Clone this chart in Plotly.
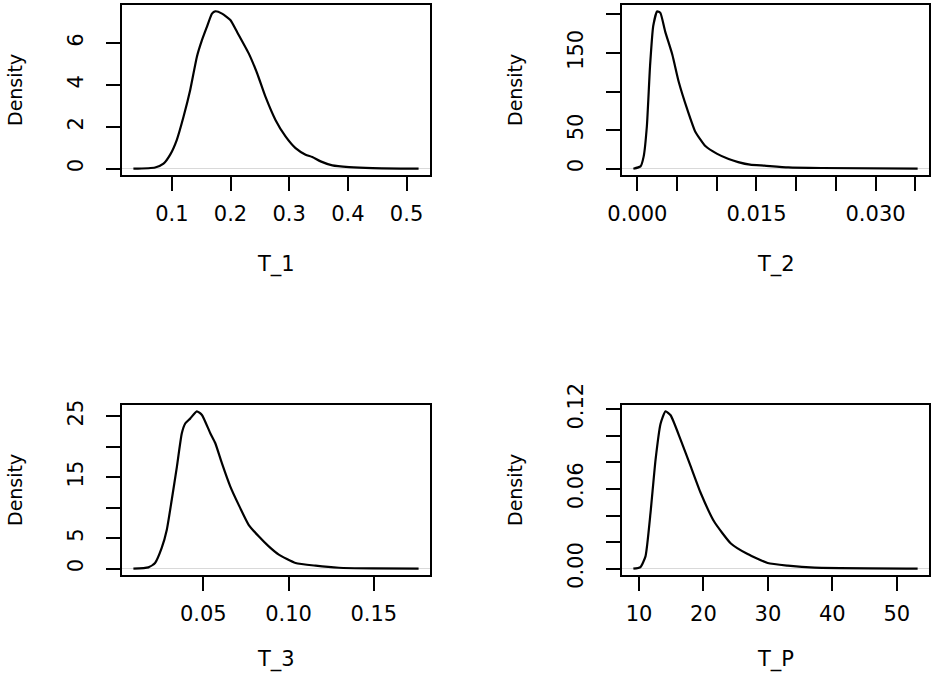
import plotly.graph_objects as go

# density curves
t1_x = [0.0345, 0.0715, 0.0858, 0.0972, 0.1085, 0.12, 0.1313, 0.1427, 0.1513, 0.1598,
        0.1684, 0.174, 0.1855, 0.1997, 0.211, 0.231, 0.2453, 0.2595, 0.2766, 0.2937,
        0.3108, 0.3279, 0.3393, 0.3535, 0.3735, 0.402, 0.4419, 0.5205]
t1_y = [0.0, 0.06, 0.24, 0.67, 1.38, 2.49, 3.76, 5.35, 6.14, 6.78,
        7.41, 7.52, 7.41, 7.10, 6.54, 5.51, 4.56, 3.44, 2.33, 1.54,
        0.98, 0.67, 0.56, 0.35, 0.16, 0.08, 0.03, 0.0]

t2_x = [-0.0005, 0.0004, 0.0008, 0.0012, 0.0016, 0.002, 0.0025, 0.0029, 0.0035,
        0.0044, 0.0052, 0.0063, 0.0073, 0.0086, 0.0100, 0.0115, 0.0127, 0.0142,
        0.016, 0.019, 0.0232, 0.0353]
t2_y = [0.0, 3, 16, 55, 133, 185, 204, 202, 178,
        148, 113, 76.5, 48, 29, 19.5, 12.5, 8.6, 5.2,
        3.9, 1.7, 0.9, 0.0]

t3_x = [0.009, 0.0178, 0.0217, 0.0256, 0.0286, 0.0315, 0.0345, 0.0374, 0.0394,
        0.0423, 0.0462, 0.0492, 0.0541, 0.057, 0.0609, 0.0658, 0.0707, 0.0766,
        0.0825, 0.0884, 0.0943, 0.1041, 0.1159, 0.1296, 0.1492, 0.1763]
t3_y = [0.0, 0.22, 0.93, 3.4, 6.4, 11.3, 16.7, 22.2, 23.8,
        24.6, 25.8, 25.2, 22.2, 20.6, 17.3, 13.5, 10.5, 7.2,
        5.3, 3.65, 2.3, 0.93, 0.49, 0.16, 0.05, 0.0]

tp_x = [9.12, 10.22, 11.0, 11.78, 12.56, 13.33, 14.11, 14.9, 16.46, 18.02,
        19.57, 21.65, 24.25, 26.85, 29.96, 33.08, 37.23, 53.23]
tp_y = [0.0, 0.00125, 0.0093, 0.042, 0.082, 0.109, 0.1185, 0.1155, 0.097, 0.077,
        0.057, 0.0355, 0.019, 0.011, 0.0043, 0.0023, 0.00075, 0.0]

names = ['T_1', 'T_2', 'T_3', 'T_P']

x_ticks = [[0.1, 0.2, 0.3, 0.4, 0.5],
           [0.0, 0.005, 0.01, 0.015, 0.02, 0.025, 0.03, 0.035],
           [0.05, 0.10, 0.15],
           [10, 20, 30, 40, 50]]
x_labels = [['0.1', '0.2', '0.3', '0.4', '0.5'],
            ['0.000', '', '', '0.015', '', '', '0.030', ''],
            ['0.05', '0.10', '0.15'],
            ['10', '20', '30', '40', '50']]
y_ticks = [[0, 2, 4, 6],
           [0, 50, 100, 150, 200],
           [0, 5, 10, 15, 20, 25],
           [0, 0.02, 0.04, 0.06, 0.08, 0.10, 0.12]]
y_labels = [['0', '2', '4', '6'],
            ['0', '50', '', '150', ''],
            ['0', '5', '', '15', '', '25'],
            ['0.00', '', '', '0.06', '', '', '0.12']]

W, H = 935, 679
# plot boxes in pixels: left, right, top, bottom
boxes = [(122, 430, 5, 175), (622, 929, 5, 175),
         (122, 430, 405, 575), (622, 929, 405, 575)]
FONT = 'DejaVu Sans, sans-serif'


def padded(vals):
    lo, hi = min(vals), max(vals)
    span = hi - lo
    return [lo - 0.04 * span, hi + 0.04 * span]


fig = go.Figure()
curves = [(t1_x, t1_y), (t2_x, t2_y), (t3_x, t3_y), (tp_x, tp_y)]
layout = {}
annotations = []
for i, (xs, ys) in enumerate(curves):
    n = '' if i == 0 else str(i + 1)
    fig.add_trace(go.Scatter(x=xs, y=ys, mode='lines', xaxis='x' + n, yaxis='y' + n,
                             line=dict(color='black', width=2.2, shape='spline', smoothing=0.5),
                             showlegend=False, hoverinfo='skip'))
    l, r, t, b = boxes[i]
    common = dict(showline=True, mirror=True, linecolor='black', linewidth=1.8,
                  ticks='outside', ticklen=14, tickwidth=1.8, tickcolor='black',
                  showgrid=False, automargin=False,
                  tickfont=dict(family=FONT, size=21, color='black'))
    layout['xaxis' + n] = dict(common, domain=[l / W, r / W], anchor='y' + n,
                               range=padded(xs), tickvals=x_ticks[i], ticktext=x_labels[i],
                               zeroline=False, ticklabelstandoff=5)
    layout['yaxis' + n] = dict(common, domain=[1 - b / H, 1 - t / H], anchor='x' + n,
                               range=padded(ys), tickvals=y_ticks[i], ticktext=y_labels[i],
                               tickangle=-90, zeroline=True, zerolinecolor='#d9d9d9',
                               zerolinewidth=1, ticklabelstandoff=15)
    annotations.append(dict(text=names[i], xref='x' + n + ' domain', yref='y' + n + ' domain',
                            x=0.5, y=0, yanchor='middle', yshift=-89 if i < 2 else -84,
                            showarrow=False, font=dict(family=FONT, size=21, color='black')))
    annotations.append(dict(text='Density', xref='x' + n + ' domain', yref='y' + n + ' domain',
                            x=0, y=0.5, xanchor='center', xshift=-107, textangle=-90,
                            showarrow=False, font=dict(family=FONT, size=19, color='black')))

fig.update_layout(template='none', width=W, height=H, margin=dict(l=0, r=0, t=0, b=0),
                  paper_bgcolor='white', plot_bgcolor='white',
                  annotations=annotations, **layout)
# drop the browser's default body margin so the figure sits at the page corner
fig.write_html('out.html', config={'displayModeBar': False},
               post_script="document.body.style.margin='0px';")
